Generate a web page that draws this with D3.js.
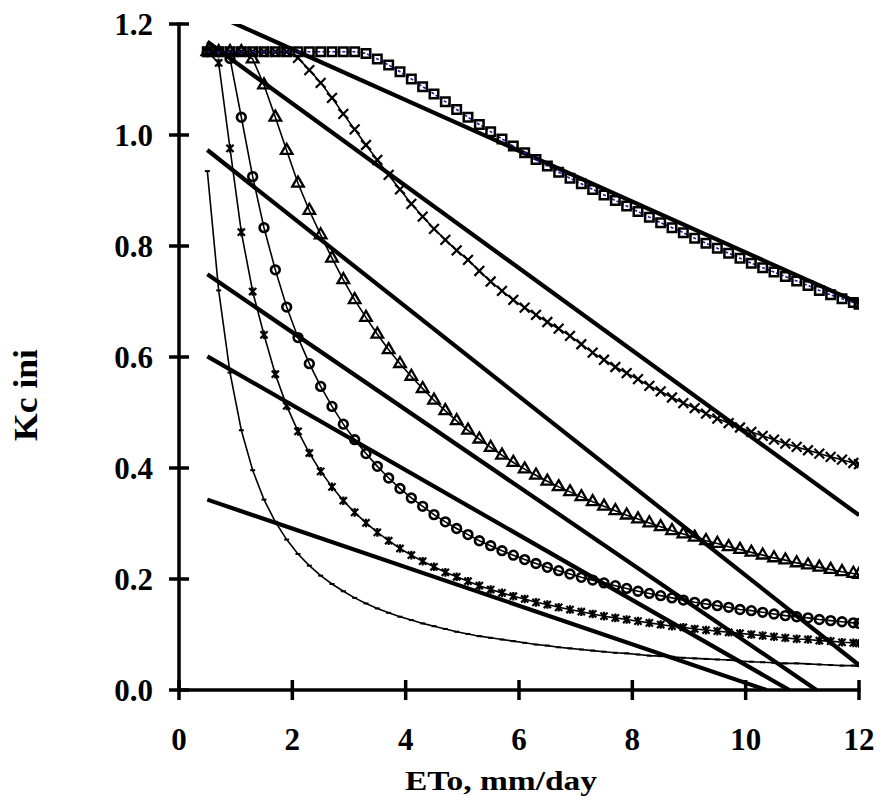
<!DOCTYPE html>
<html>
<head>
<meta charset="utf-8">
<style>
  body { margin: 0; background: #fff; }
  svg { display: block; }
  .tick-label { font-family: "Liberation Serif", "Times New Roman", serif; font-weight: bold; font-size: 31px; fill: #000; }
  .title { font-family: "Liberation Serif", "Times New Roman", serif; font-weight: bold; font-size: 27px; fill: #000; }
</style>
</head>
<body>
<script src="https://cdn.jsdelivr.net/npm/d3@7"></script>
<script>
// ETo values (mm/day) where each curve is sampled
var eto = [0.5,0.7,0.9,1.1,1.3,1.5,1.7,1.9,2.1,2.3,2.5,2.7,2.9,3.1,3.3,3.5,3.7,3.9,4.1,4.3,
           4.5,4.7,4.9,5.1,5.3,5.5,5.7,5.9,6.1,6.3,6.5,6.7,6.9,7.1,7.3,7.5,7.7,7.9,8.1,8.3,
           8.5,8.7,8.9,9.1,9.3,9.5,9.7,9.9,10.1,10.3,10.5,10.7,10.9,11.1,11.3,11.5,11.7,11.9,12];

// Kc ini curves
var kcSquare = [1.15,1.15,1.15,1.15,1.15,1.15,1.15,1.15,1.15,1.15,1.15,1.15,1.15,1.15,1.147,1.137,1.126,1.114,1.101,1.087,
                1.074,1.060,1.046,1.032,1.019,1.006,0.993,0.980,0.968,0.956,0.944,0.933,0.922,0.912,0.902,0.892,0.882,0.872,0.862,0.852,
                0.842,0.833,0.824,0.814,0.805,0.796,0.787,0.778,0.769,0.761,0.753,0.745,0.737,0.729,0.720,0.712,0.705,0.698,0.695];
var kcCross = [1.15,1.15,1.15,1.15,1.15,1.15,1.15,1.15,1.139,1.117,1.094,1.067,1.038,1.010,0.982,0.955,0.928,0.902,0.876,0.853,
               0.831,0.811,0.792,0.775,0.755,0.736,0.719,0.703,0.689,0.676,0.663,0.651,0.638,0.623,0.608,0.595,0.582,0.571,0.560,0.548,
               0.538,0.527,0.517,0.508,0.498,0.489,0.481,0.473,0.465,0.458,0.451,0.444,0.438,0.432,0.426,0.420,0.415,0.409,0.407];
var kcTriangle = [1.15,1.15,1.15,1.15,1.137,1.090,1.032,0.972,0.913,0.864,0.820,0.778,0.739,0.703,0.671,0.641,0.613,0.588,0.565,0.543,
                  0.522,0.503,0.485,0.468,0.452,0.437,0.423,0.410,0.398,0.387,0.376,0.366,0.357,0.348,0.339,0.331,0.323,0.315,0.308,0.301,
                  0.294,0.287,0.281,0.275,0.269,0.264,0.258,0.253,0.248,0.243,0.238,0.234,0.229,0.225,0.221,0.217,0.213,0.210,0.208];
var kcCircle = [1.15,1.15,1.138,1.032,0.925,0.833,0.757,0.690,0.635,0.588,0.547,0.511,0.479,0.451,0.426,0.403,0.382,0.363,0.346,0.331,
                0.316,0.303,0.291,0.280,0.269,0.260,0.251,0.243,0.235,0.228,0.221,0.215,0.209,0.203,0.198,0.193,0.188,0.183,0.178,0.174,
                0.170,0.166,0.162,0.158,0.155,0.152,0.149,0.145,0.143,0.140,0.137,0.134,0.132,0.130,0.127,0.125,0.123,0.121,0.120];
var kcStar = [1.15,1.13,0.976,0.825,0.718,0.640,0.569,0.512,0.466,0.427,0.394,0.366,0.341,0.320,0.301,0.284,0.269,0.255,0.243,0.232,
              0.222,0.212,0.204,0.196,0.188,0.181,0.175,0.169,0.164,0.158,0.154,0.149,0.145,0.141,0.137,0.133,0.130,0.127,0.124,0.121,
              0.118,0.115,0.113,0.110,0.108,0.106,0.104,0.102,0.100,0.098,0.096,0.094,0.092,0.091,0.089,0.088,0.086,0.085,0.084];
var kcDash = [0.935,0.720,0.572,0.468,0.396,0.343,0.303,0.271,0.245,0.224,0.206,0.191,0.178,0.166,0.156,0.147,0.139,0.132,0.126,0.120,
              0.115,0.110,0.105,0.101,0.097,0.094,0.091,0.088,0.085,0.082,0.080,0.077,0.075,0.073,0.071,0.069,0.067,0.066,0.064,0.062,
              0.061,0.060,0.058,0.057,0.056,0.055,0.054,0.052,0.051,0.050,0.049,0.048,0.048,0.047,0.046,0.045,0.044,0.044,0.043];

// straight lines: [x1, y1, x2, y2]
var straightLines = [
  [0.5, 1.223, 12, 0.697],
  [0.5, 1.168, 12, 0.315],
  [0.5, 0.973, 12, 0.045],
  [0.5, 0.749, 11.25, 0],
  [0.5, 0.601, 10.77, 0],
  [0.5, 0.343, 10.37, 0]
];

var xTicks = [0, 2, 4, 6, 8, 10, 12];
var yTicks = [0, 0.2, 0.4, 0.6, 0.8, 1.0, 1.2];

var W = 880, H = 805;
var x = d3.scaleLinear().domain([0, 12]).range([179, 859]);
var y = d3.scaleLinear().domain([0, 1.2]).range([690, 24]);

var svg = d3.select("body").append("svg").attr("width", W).attr("height", H);

svg.append("defs").append("clipPath").attr("id", "plot")
  .append("rect").attr("x", x(0)).attr("y", y(1.2)).attr("width", x(12) - x(0)).attr("height", y(0) - y(1.2));

var plot = svg.append("g").attr("clip-path", "url(#plot)");

function pts(vals) {
  return eto.map(function (e, i) { return [e, vals[i]]; }).filter(function (d) { return d[1] != null; });
}
var line = d3.line().x(function (d) { return x(d[0]); }).y(function (d) { return y(d[1]); });

// thick straight lines
plot.selectAll(".straight").data(straightLines).enter().append("line")
  .attr("x1", function (d) { return x(d[0]); }).attr("y1", function (d) { return y(d[1]); })
  .attr("x2", function (d) { return x(d[2]); }).attr("y2", function (d) { return y(d[3]); })
  .attr("stroke", "#000").attr("stroke-width", 4.2);

var symTimes = d3.symbolTimes || d3.symbolX;
// x with a vertical bar, like the spreadsheet "star" marker
function starPath(r) {
  return "M" + (-r) + "," + (-r) + "L" + r + "," + r + "M" + (-r) + "," + r + "L" + r + "," + (-r) +
         "M0," + (-r * 1.2) + "L0," + (r * 1.2);
}

var series = [
  { v: kcDash, marker: "dash" },
  { v: kcStar, marker: "star" },
  { v: kcCircle, marker: "circle" },
  { v: kcTriangle, marker: "triangle" },
  { v: kcCross, marker: "cross" },
  { v: kcSquare, marker: "square" }
];

series.forEach(function (s) {
  var data = pts(s.v);
  var path = plot.append("path").datum(data).attr("d", line).attr("fill", "none");
  if (s.marker === "square") {
    path.attr("stroke", "#1a1aa0").attr("stroke-width", 1.6).attr("stroke-dasharray", "3,2");
  } else {
    path.attr("stroke", "#000").attr("stroke-width", 1.6);
  }
  var g = plot.append("g");
  var m = g.selectAll("path").data(data).enter().append("path")
    .attr("transform", function (d) { return "translate(" + x(d[0]) + "," + y(d[1]) + ")"; })
    .attr("fill", "none").attr("stroke", "#000");
  if (s.marker === "square") {
    m.attr("d", d3.symbol().type(d3.symbolSquare).size(72)).attr("stroke-width", 2.5);
  } else if (s.marker === "triangle") {
    m.attr("d", d3.symbol().type(d3.symbolTriangle).size(58)).attr("stroke-width", 2.3);
  } else if (s.marker === "circle") {
    m.attr("d", d3.symbol().type(d3.symbolCircle).size(60)).attr("stroke-width", 2.6);
  } else if (s.marker === "cross") {
    m.attr("d", d3.symbol().type(symTimes).size(64)).attr("stroke-width", 2.2);
  } else if (s.marker === "star") {
    m.attr("d", starPath(3.6)).attr("stroke-width", 2.2);
  } else {
    m.attr("d", "M-2.5,0H2.5").attr("stroke-width", 2);
  }
});

// axes
var axes = svg.append("g").attr("stroke", "#000");
axes.append("line").attr("x1", x(0)).attr("x2", x(0)).attr("y1", y(1.2) - 1.5).attr("y2", y(0) + 1.5).attr("stroke-width", 3.5);
axes.append("line").attr("x1", x(0) - 1.5).attr("x2", x(12) + 1.5).attr("y1", y(0)).attr("y2", y(0)).attr("stroke-width", 3.5);
axes.selectAll(".yt").data(yTicks).enter().append("line")
  .attr("x1", x(0) - 10).attr("x2", x(0) + 10)
  .attr("y1", function (d) { return y(d); }).attr("y2", function (d) { return y(d); })
  .attr("stroke-width", 3.5);
axes.selectAll(".xt").data(xTicks).enter().append("line")
  .attr("y1", y(0) - 10).attr("y2", y(0) + 10)
  .attr("x1", function (d) { return x(d); }).attr("x2", function (d) { return x(d); })
  .attr("stroke-width", 3.5);

svg.selectAll(".ylab").data(yTicks).enter().append("text")
  .attr("class", "tick-label").attr("text-anchor", "end")
  .attr("x", 153).attr("y", function (d) { return y(d) + 10.5; })
  .text(function (d) { return d.toFixed(1); });
svg.selectAll(".xlab").data(xTicks).enter().append("text")
  .attr("class", "tick-label").attr("text-anchor", "middle")
  .attr("x", function (d) { return x(d); }).attr("y", 750)
  .text(function (d) { return d; });

svg.append("text").attr("class", "title").attr("text-anchor", "middle")
  .attr("x", 501).attr("y", 790)
  .attr("textLength", 192).attr("lengthAdjust", "spacingAndGlyphs")
  .text("ETo, mm/day");

svg.append("text").attr("class", "title").attr("text-anchor", "middle")
  .style("font-size", "33px")
  .attr("transform", "translate(37,395) rotate(-90)")
  .attr("textLength", 92).attr("lengthAdjust", "spacingAndGlyphs")
  .text("Kc ini");
</script>
</body>
</html>
